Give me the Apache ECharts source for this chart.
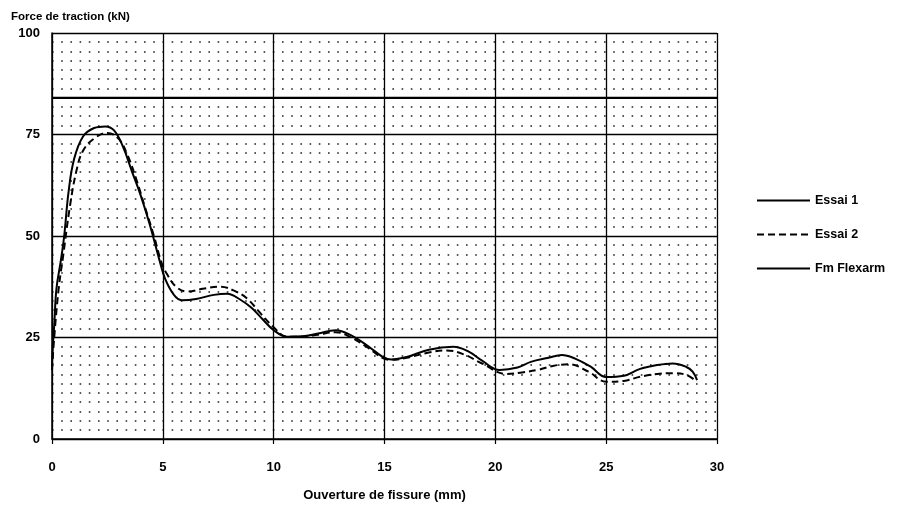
<!DOCTYPE html>
<html>
<head>
<meta charset="utf-8">
<script src="https://cdn.jsdelivr.net/npm/echarts@6/dist/echarts.min.js"></script>
<style>html,body{margin:0;padding:0;background:#fff}#c{width:909px;height:507px}</style>
</head>
<body>
<div id="c"></div>
<script>
const essai1 = [[0,18],[0.05,24],[0.1,28],[0.2,37],[0.4,44],[0.55,50],[0.75,61],[1.0,69],[1.4,74.5],[1.9,76.6],[2.4,77],[2.8,76],[3.2,72],[3.6,66],[4.0,60],[4.4,53],[4.85,44],[5.1,39.5],[5.5,35.5],[5.85,34.2],[6.5,34.5],[7.3,35.5],[7.9,35.8],[8.5,34.3],[9.0,32.3],[9.5,29.5],[10.0,26.8],[10.6,25.2],[11.3,25.3],[12.0,26],[12.8,26.8],[13.5,25.5],[14.3,22.7],[14.9,20.3],[15.3,19.6],[16.0,20.2],[17.0,22],[18.1,22.7],[18.8,21.5],[19.4,19.3],[20.2,17],[21.0,17.6],[21.6,19],[22.4,20],[23.0,20.7],[23.6,19.8],[24.3,17.8],[25.0,15.3],[25.8,15.6],[26.5,17.2],[27.3,18.2],[28.0,18.6],[28.6,17.8],[28.9,16.6],[29.1,14.5]];
const essai2 = [[0,17],[0.1,25],[0.3,37],[0.5,45],[0.8,57],[1.1,66],[1.4,71],[1.9,74],[2.5,75.4],[3.0,74],[3.4,70],[3.8,64],[4.2,57],[4.6,50],[4.95,43.3],[5.2,40.5],[5.6,37.5],[6.1,36.3],[6.8,37],[7.6,37.5],[8.3,36.3],[8.8,34.6],[9.4,31],[10.0,27.5],[10.6,25.2],[11.3,25.2],[12.0,25.7],[12.8,26.3],[13.5,25],[14.3,22.3],[14.9,20],[15.3,19.5],[16,20],[17,21.3],[17.8,21.8],[18.6,20.8],[19.4,18.6],[20.5,16],[21.2,16.4],[21.9,17],[22.6,18],[23.3,18.4],[24.2,16.6],[25.0,14.1],[25.8,14.3],[26.5,15.3],[27.3,16],[28.0,16.2],[28.6,15.8],[29.1,14.1]];
const fmFlexarm = [[0,84],[30,84]];
const seriesNames = ['Essai 1','Essai 2','Fm Flexarm'];
const yTitle = 'Force de traction (kN)';
const xTitle = 'Ouverture de fissure (mm)';

const font = 'Liberation Sans, Arial, sans-serif';
const chart = echarts.init(document.getElementById('c'), null, {renderer:'canvas'});
chart.setOption({
  animation:false,
  backgroundColor:'#fff',
  title:{text:yTitle,left:6,top:6,textStyle:{fontFamily:font,fontWeight:'bold',fontSize:11.5,color:'#000'}},
  grid:{left:52,top:33,width:665,height:406},
  legend:{
    orient:'vertical',left:751,top:189,itemWidth:53,itemHeight:10,itemGap:21,
    itemStyle:{opacity:0,borderWidth:0},
    textStyle:{fontFamily:font,fontWeight:'bold',fontSize:12.5,color:'#000'},
    data:seriesNames
  },
  xAxis:{
    type:'value',min:0,max:30,interval:5,
    name:xTitle,nameLocation:'middle',nameGap:50,
    nameTextStyle:{fontFamily:font,fontWeight:'bold',fontSize:13,color:'#000'},
    axisLine:{show:true,lineStyle:{color:'#000',width:1.5}},
    axisTick:{show:true,length:5,lineStyle:{color:'#000',width:1.2}},
    axisLabel:{fontFamily:font,fontWeight:'bold',fontSize:13,color:'#000',margin:22},
    splitLine:{show:true,lineStyle:{color:'#000',width:1.3}}
  },
  yAxis:{
    type:'value',min:0,max:100,interval:25,
    axisLine:{show:true,lineStyle:{color:'#000',width:1.5}},
    axisTick:{show:false},
    axisLabel:{fontFamily:font,fontWeight:'bold',fontSize:13,color:'#000',margin:12},
    splitLine:{show:true,lineStyle:{color:'#000',width:1.3}},
    minorTick:{show:false,splitNumber:11},
    minorSplitLine:{show:true,lineStyle:{color:'#222',width:1.6,type:[1.6,7.6]}}
  },
  series:[
    {name:seriesNames[0],type:'line',data:essai1,smooth:0.4,symbol:'none',
     lineStyle:{color:'#000',width:2,type:'solid'},itemStyle:{color:'#000'}},
    {name:seriesNames[1],type:'line',data:essai2,smooth:0.4,symbol:'none',
     lineStyle:{color:'#000',width:2,type:[7,4]},itemStyle:{color:'#000'}},
    {name:seriesNames[2],type:'line',data:fmFlexarm,symbol:'none',
     lineStyle:{color:'#000',width:2.2},itemStyle:{color:'#000'}}
  ]
});
</script>
</body>
</html>
